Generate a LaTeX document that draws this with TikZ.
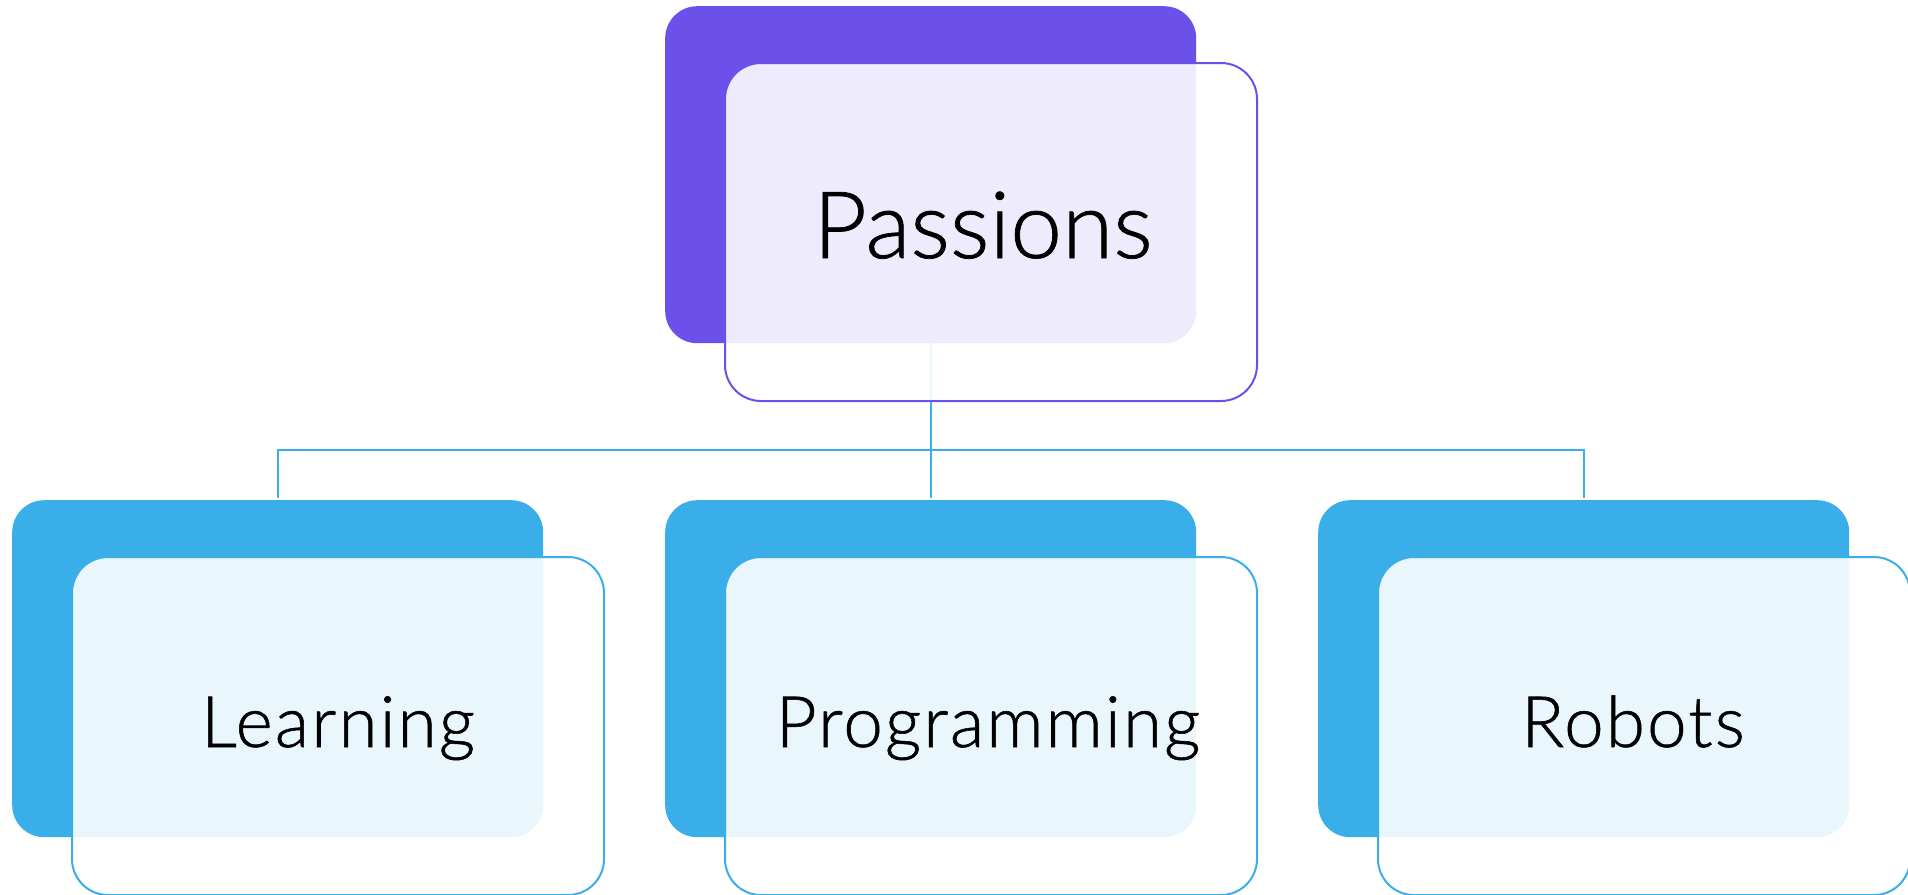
\documentclass[tikz,border=0pt]{standalone}
\usepackage{fontspec}
\setmainfont{Lato Light}[FakeBold=0.8]
\newfontfamily\labfont{Lato Light}[FakeBold=0.8, LetterSpace=3]
\definecolor{purp}{HTML}{6B50EA}
\definecolor{sky}{HTML}{3AAEE8}
\begin{document}
\begin{tikzpicture}[x=1pt,y=-1pt,
  back/.style={rectangle, rounded corners=32pt, minimum width=531pt, minimum height=337pt, inner sep=0pt, anchor=north west},
  front/.style={rectangle, rounded corners=36pt, minimum width=532pt, minimum height=338pt, inner sep=0pt, anchor=north west, fill=white, fill opacity=0.89, line width=2pt},
  conn/.style={draw=sky, line width=2pt},
  lbl/.style={anchor=base, inner sep=0pt, text=black},
  big/.style={font=\fontsize{93}{110}\selectfont},
  small/.style={font=\labfont\fontsize{71}{85}\selectfont}]
\useasboundingbox (0,0) rectangle (1908,894);
\node[back, fill=purp] (pb) at (665,6) {};
\node[back, fill=sky] (lb) at (12,500) {};
\node[back, fill=sky] (gb) at (665,500) {};
\node[back, fill=sky] (rb) at (1318,500) {};
\draw[conn, shorten >=2pt] (pb.south) -- (gb.north);
\draw[conn, shorten <=2pt, shorten >=2pt] (lb.north) -- ++(0,-50) -| (rb.north);
\node[front, draw=purp] (pf) at (724,62) {};
\node[front, draw=sky] (lf) at (71,556) {};
\node[front, draw=sky] (gf) at (724,556) {};
\node[front, draw=sky] (rf) at (1377,556) {};
\node[lbl, big] (pt) at (983,258) {Passions};
\node[lbl, small] (lt) at (338,747) {Learning};
\node[lbl, small] (gt) at (988,747) {Programming};
\node[lbl, small] (rt) at (1633,747) {Robots};
\end{tikzpicture}
\end{document}
